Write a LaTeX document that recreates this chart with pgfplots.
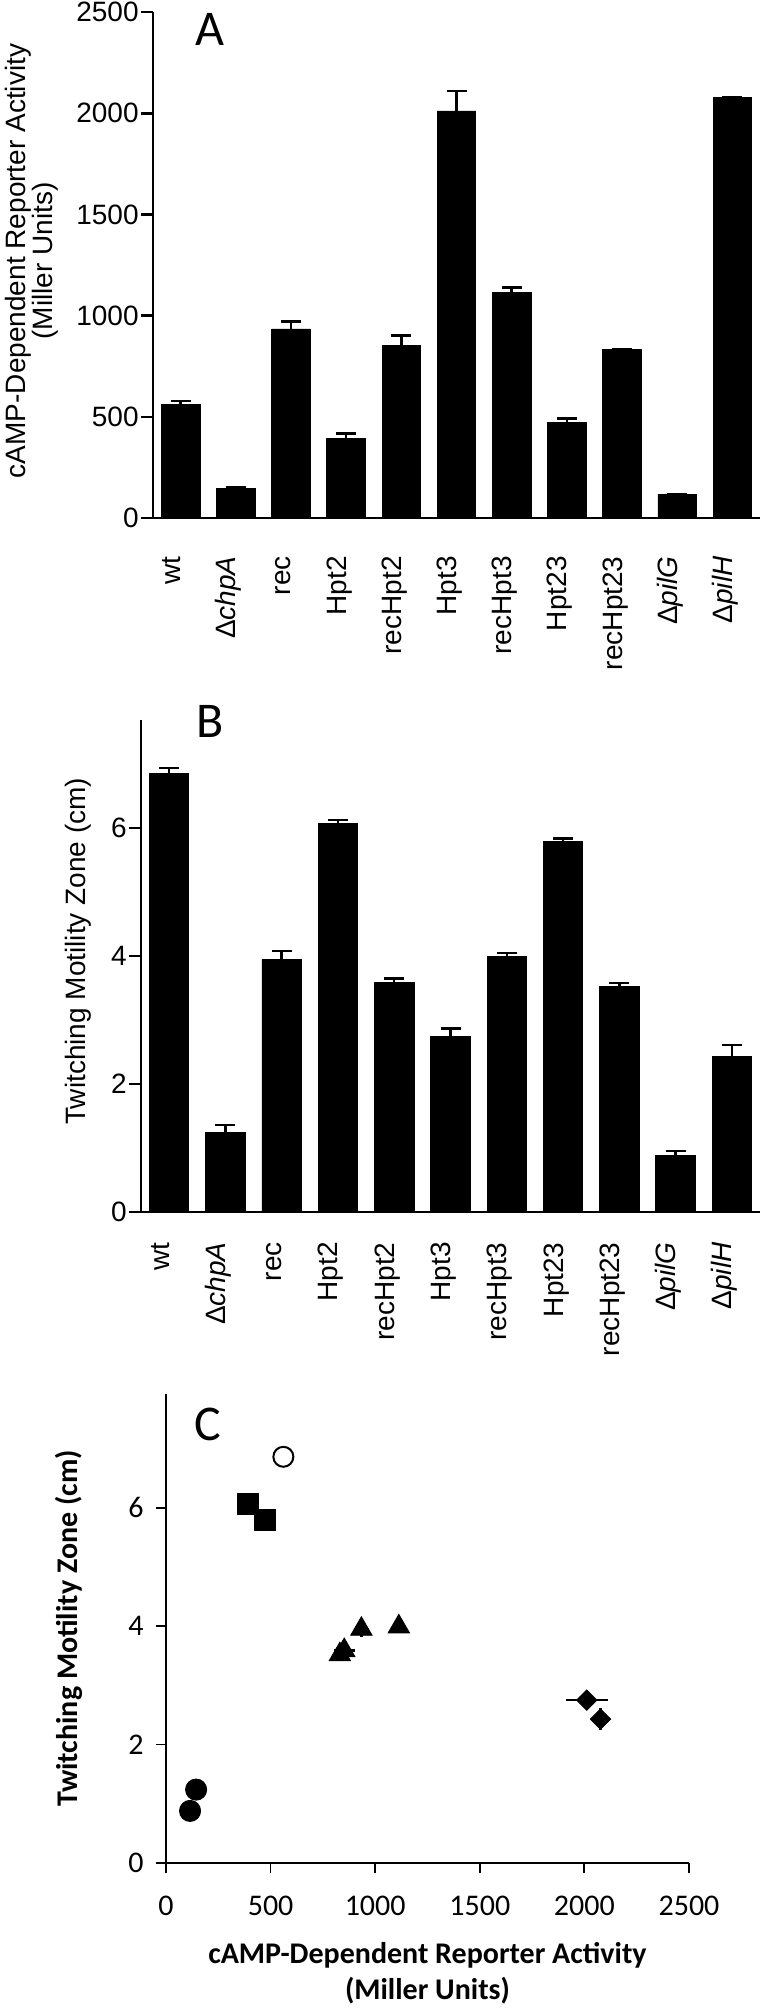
\documentclass[border=0pt]{standalone}
\usepackage{fontspec}
\setmainfont{Liberation Sans}
\newfontfamily\carlito{Carlito}
\usepackage{pgfplots}
\usepackage{pgfplotstable}
\pgfplotsset{compat=1.18}

\pgfplotstableread{
x val err
0 561 18
1 144 8
2 934 36
3 393 25
4 852 50
5 2011 100
6 1113 25
7 472 20
8 831 5
9 115 5
10 2077 3
}\tableA

\pgfplotstableread{
x val err
0 6.86 0.08
1 1.24 0.12
2 3.95 0.13
3 6.07 0.06
4 3.59 0.06
5 2.75 0.12
6 3.99 0.06
7 5.79 0.05
8 3.52 0.06
9 0.88 0.07
10 2.43 0.18
}\tableB

% panel C groups: a = reporter activity, b = twitching zone
\pgfplotstableread{
a b ea eb
561 6.86 18 0.08
}\cWt
\pgfplotstableread{
a b ea eb
144 1.24 8 0.12
115 0.88 5 0.07
}\cDel
\pgfplotstableread{
a b ea eb
393 6.07 25 0.06
472 5.79 20 0.05
}\cHpt
\pgfplotstableread{
a b ea eb
934 3.95 36 0.13
852 3.59 50 0.06
1113 3.99 25 0.06
831 3.52 5 0.06
}\cRec
\pgfplotstableread{
a b ea eb
2011 2.75 100 0.12
2077 2.43 3 0.18
}\cDia

\pgfplotsset{
  barpanel/.style={
    scale only axis,
    axis x line*=bottom, axis y line*=left,
    axis line style={line width=1.3pt},
    xmin=-0.5, xmax=10.5, ymin=0,
    xtick={0,...,10},
    xticklabels={wt,Δ\textit{chpA},rec,Hpt2,recHpt2,Hpt3,recHpt3,Hpt23,recHpt23,Δ\textit{pilG},Δ\textit{pilH}},
    major x tick style={draw=none},
    major y tick style={line width=1.3pt, black},
    tick align=outside, major tick length=6pt,
    /pgf/number format/assume math mode=true,
    /pgf/number format/1000 sep={},
    tick label style={font=\fontsize{14}{16}\selectfont},
    yticklabel style={inner sep=1pt},
    ybar, bar width=0.7,
    clip=false,
  },
  barplot/.style={fill=black, draw=black,
    error bars/y dir=plus, error bars/y explicit,
    error bars/error bar style={line width=1.2pt, black},
    error bars/error mark=|,
    error bars/error mark options={black, line width=1.2pt, mark size=5pt}},
  cplot/.style={only marks,
    error bars/x dir=both, error bars/x explicit,
    error bars/y dir=both, error bars/y explicit,
    error bars/error bar style={line width=1.2pt, black},
    error bars/error mark=none},
}

\begin{document}
\begin{tikzpicture}
\useasboundingbox (0pt,-1005pt) rectangle (380pt,0pt);

% ---------------- Panel A ----------------
\begin{axis}[barpanel,
  at={(76.5pt,-259pt)}, anchor=south west,
  width=303.5pt, height=253pt,
  ymax=2500, ytick={0,500,1000,1500,2000,2500},
  xticklabel style={yshift=-13pt, rotate=90, anchor=base east, inner sep=0pt},
  ylabel={cAMP-Dependent Reporter Activity\\(Miller Units)},
  every axis y label/.style={at={(axis description cs:-0.199,0.508)}, rotate=90, anchor=center, align=center, font=\fontsize{14}{13.5}\selectfont},
]
\addplot[barplot] table[x=x, y=val, y error=err] {\tableA};
\node[font=\carlito\fontsize{25}{25}\selectfont, anchor=north, inner sep=0pt] at (axis description cs:0.094,0.998) {A};
\end{axis}

% ---------------- Panel B ----------------
\begin{axis}[barpanel,
  at={(70.5pt,-606pt)}, anchor=south west,
  width=309.5pt, height=246pt,
  ymax=7.69, ytick={0,2,4,6},
  xticklabel style={yshift=-9pt, rotate=90, anchor=base east, inner sep=0pt},
  ylabel={Twitching Motility Zone (cm)},
  every axis y label/.style={at={(axis description cs:-0.102,0.53)}, rotate=90, anchor=center, font=\fontsize{14}{16}\selectfont},
]
\addplot[barplot] table[x=x, y=val, y error=err] {\tableB};
\node[font=\carlito\fontsize{25}{25}\selectfont, anchor=north, inner sep=0pt] at (axis description cs:0.111,1.03) {B};
\end{axis}

% ---------------- Panel C ----------------
\begin{axis}[
  scale only axis,
  at={(83pt,-931.5pt)}, anchor=south west,
  width=261.5pt, height=234.5pt,
  axis x line*=bottom, axis y line*=left,
  axis line style={line width=0.9pt},
  xmin=0, xmax=2500, ymin=0, ymax=7.92,
  xtick={0,500,1000,1500,2000,2500}, ytick={0,2,4,6},
  tick align=outside, major tick length=5pt,
  major tick style={line width=0.9pt, black},
  /pgf/number format/assume math mode=true,
  /pgf/number format/1000 sep={},
  tick label style={font=\carlito\fontsize{15}{17}\selectfont},
  xticklabel style={inner sep=0pt, yshift=-11.5pt},
  yticklabel style={inner sep=0pt, xshift=-6pt},
  xlabel={cAMP-Dependent Reporter Activity\\(Miller Units)},
  every axis x label/.style={at={(axis description cs:0.5,-0.168)}, anchor=north, align=center, inner sep=0pt, font=\carlito\bfseries\fontsize{15}{18}\selectfont},
  ylabel={Twitching Motility Zone (cm)},
  every axis y label/.style={at={(axis description cs:-0.185,0.5)}, rotate=90, anchor=center, font=\carlito\bfseries\fontsize{15}{17}\selectfont},
  clip=false,
]
\addplot[only marks, mark=o, mark size=5pt, mark options={black, line width=1pt, fill=white}] table[x=a, y=b] {\cWt};
\addplot[cplot, mark=*, mark size=5.3pt, mark options={black, fill=black}] table[x=a, y=b, x error=ea, y error=eb] {\cDel};
\addplot[cplot, mark=square*, mark size=5.3pt, mark options={black, fill=black}] table[x=a, y=b, x error=ea, y error=eb] {\cHpt};
\addplot[cplot, mark=triangle*, mark size=6.2pt, mark options={black, fill=black}] table[x=a, y=b, x error=ea, y error=eb] {\cRec};
\addplot[cplot, mark=square*, mark size=3.6pt, mark options={black, fill=black, rotate=45}] table[x=a, y=b, x error=ea, y error=eb] {\cDia};
\node[font=\carlito\fontsize{25}{25}\selectfont, anchor=north, inner sep=0pt] at (axis description cs:0.08,0.972) {C};
\end{axis}
\end{tikzpicture}
\end{document}
